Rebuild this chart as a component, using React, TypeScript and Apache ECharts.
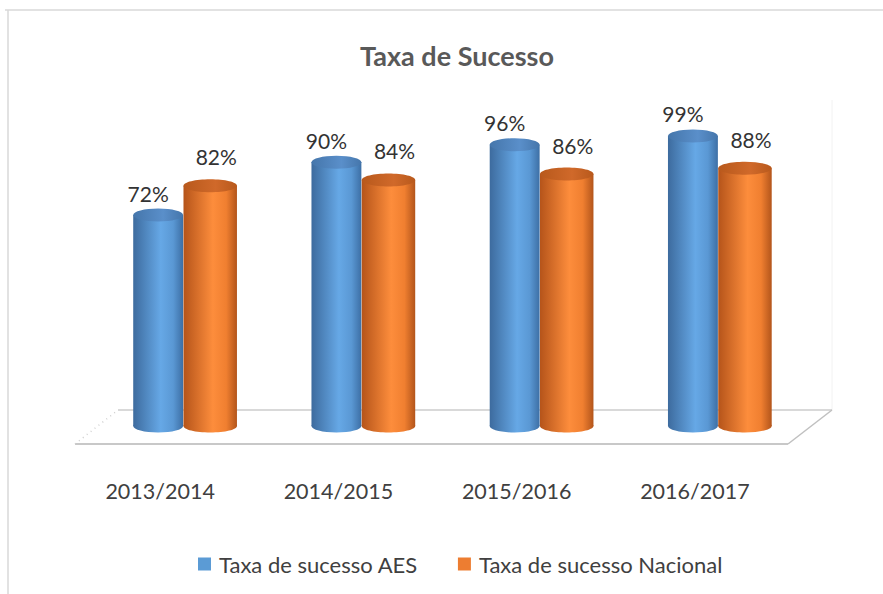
import React, { useEffect, useRef } from "react";
import * as echarts from "echarts";

const categories = ["2013/2014", "2014/2015", "2015/2016", "2016/2017"];
const aesValues = [72, 90, 96, 99];
const nacionalValues = [82, 84, 86, 88];
const seriesNames = ["Taxa de sucesso AES", "Taxa de sucesso Nacional"];

const FONT = "Lato, 'Open Sans', sans-serif";

function cylinder(
  offsetRatio: number,
  widthRatio: number,
  side: string[],
  topColors: string[],
  labelDx: number,
  labelDy: number
) {
  return (params: any, api: any) => {
    const idx = api.value(0);
    const v = api.value(1);
    const top = api.coord([idx, v]);
    const base = api.coord([idx, 0]);
    const band = api.size([1, 0])[0];
    const cx = top[0] + band * offsetRatio;
    const w = band * widthRatio;
    const ry = 6.5;
    const sideFill = new echarts.graphic.LinearGradient(0, 0, 1, 0, [
      { offset: 0, color: side[0] },
      { offset: 0.55, color: side[1] },
      { offset: 0.8, color: side[2] },
      { offset: 1, color: side[3] },
    ]);
    const topFill = new echarts.graphic.LinearGradient(0, 0, 1, 0, [
      { offset: 0, color: topColors[0] },
      { offset: 0.6, color: topColors[1] },
      { offset: 1, color: topColors[0] },
    ]);
    return {
      type: "group",
      children: [
        {
          type: "ellipse",
          shape: { cx, cy: base[1], rx: w / 2, ry },
          style: { fill: sideFill },
        },
        {
          type: "rect",
          shape: { x: cx - w / 2, y: top[1], width: w, height: base[1] - top[1] },
          style: { fill: sideFill },
        },
        {
          type: "ellipse",
          shape: { cx, cy: top[1], rx: w / 2, ry },
          style: { fill: topFill },
        },
        {
          type: "text",
          x: cx + labelDx,
          y: top[1] + labelDy,
          style: {
            text: v + "%",
            fill: "#333333",
            font: `21px ${FONT}`,
            align: "center",
            verticalAlign: "middle",
          },
        },
      ],
    };
  };
}

export default function App() {
  const ref = useRef<HTMLDivElement>(null);
  useEffect(() => {
    if (!ref.current) return;
    const chart = echarts.init(ref.current, undefined, { renderer: "svg" });
    const aesData = aesValues.map((v, i) => [i, v]);
    const nacData = nacionalValues.map((v, i) => [i, v]);
    chart.setOption({
      animation: false,
      backgroundColor: "#ffffff",
      title: {
        text: "Taxa de Sucesso",
        left: 452,
        textAlign: "center",
        top: 37,
        textStyle: { fontFamily: FONT, fontSize: 27, fontWeight: "bold", color: "#595959" },
      },
      legend: {
        data: [
          { name: seriesNames[0], itemStyle: { color: "#5b9bd5" } },
          { name: seriesNames[1], itemStyle: { color: "#ed7d31" } },
        ],
        left: 193,
        top: 548,
        icon: "rect",
        itemWidth: 13,
        itemHeight: 13,
        itemGap: 40,
        textStyle: { fontFamily: FONT, fontSize: 22, color: "#404040", padding: [0, 0, 0, 3] },
      },
      grid: { left: 94, right: 76, top: 133, bottom: 168 },
      xAxis: {
        type: "category",
        data: categories,
        axisLine: { show: false },
        axisTick: { show: false },
        axisLabel: {
          margin: 54,
          fontFamily: FONT,
          fontSize: 21.5,
          color: "#404040",
          padding: [0, 46, 0, 0],
        },
      },
      yAxis: { type: "value", min: 0, max: 100, show: false },
      graphic: [
        {
          type: "line",
          shape: { x1: 5, y1: 10, x2: 883, y2: 10 },
          style: { stroke: "#d9d9d9", lineWidth: 1.5 },
        },
        {
          type: "line",
          shape: { x1: 8, y1: 10, x2: 8, y2: 594 },
          style: { stroke: "#d9d9d9", lineWidth: 1.5 },
        },
        {
          type: "line",
          shape: { x1: 832, y1: 100, x2: 832, y2: 410 },
          style: { stroke: "#f2f2f2", lineWidth: 1 },
        },
        {
          type: "polygon",
          shape: { points: [[118, 410], [832, 410], [788, 444], [75, 444]] },
          style: { fill: "#ffffff", stroke: "none" },
        },
        {
          type: "line",
          shape: { x1: 118, y1: 410, x2: 832, y2: 410 },
          style: { stroke: "#d9d9d9", lineWidth: 2 },
        },
        {
          type: "line",
          shape: { x1: 75, y1: 444, x2: 788, y2: 444 },
          style: { stroke: "#c8c8c8", lineWidth: 2 },
        },
        {
          type: "line",
          shape: { x1: 788, y1: 444, x2: 832, y2: 410 },
          style: { stroke: "#c0c0c0", lineWidth: 1.5 },
        },
        {
          type: "line",
          shape: { x1: 75, y1: 444, x2: 118, y2: 410 },
          style: { stroke: "#d0d0d0", lineWidth: 1.5, lineDash: [1, 4] },
        },
      ],
      series: [
        {
          name: seriesNames[0],
          type: "custom",
          itemStyle: { color: "#5b9bd5" },
          renderItem: cylinder(
            -0.14,
            0.28,
            ["#3d6b9e", "#66a8e6", "#5a98d4", "#3d6fa5"],
            ["#4576ab", "#5a8fca"],
            -10,
            -22
          ),
          data: aesData,
          encode: { x: 0, y: 1 },
          z: 3,
        },
        {
          name: seriesNames[1],
          type: "custom",
          itemStyle: { color: "#ed7d31" },
          renderItem: cylinder(
            0.152,
            0.3,
            ["#b5541a", "#fd8d3c", "#f07f30", "#b3551b"],
            ["#b8591c", "#d0692a"],
            6,
            -29
          ),
          data: nacData,
          encode: { x: 0, y: 1 },
          z: 3,
        },
      ],
    });
    return () => chart.dispose();
  }, []);
  return (
    <div
      ref={ref}
      style={{ position: "fixed", left: 0, top: 0, width: 883, height: 594 }}
    />
  );
}
